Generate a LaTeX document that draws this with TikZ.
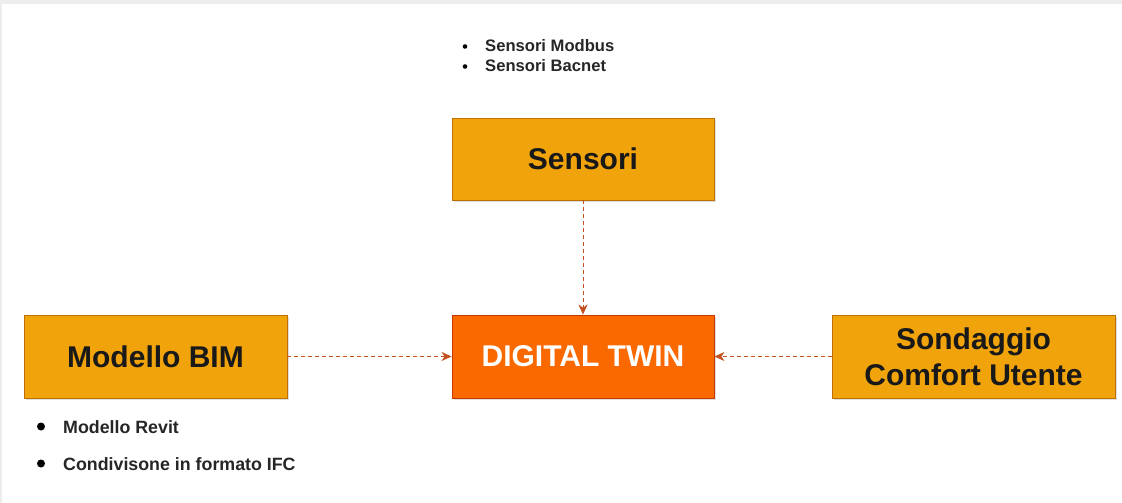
\documentclass[tikz,border=0pt]{standalone}
\usepackage{fontspec}
\setmainfont{Liberation Sans}
\usetikzlibrary{shadows,arrows.meta}
\definecolor{boxfill}{HTML}{F0A30A}
\definecolor{boxline}{HTML}{BD7000}
\definecolor{dtfill}{HTML}{FA6800}
\definecolor{dtline}{HTML}{C73500}
\definecolor{arr}{HTML}{C4501F}
\tikzset{
  box/.style={draw=boxline, fill=boxfill, line width=0.8pt, inner sep=0pt, align=center,
    font=\fontsize{30}{36}\selectfont\bfseries, text=black!90,
    drop shadow={shadow xshift=2pt, shadow yshift=-2pt, opacity=0.25, fill=gray}},
  dtbox/.style={box, draw=dtline, fill=dtfill, text=white},
  conn/.style={draw=arr, dash pattern=on 4pt off 3pt, line width=1pt,
    -{Stealth[length=10pt, width=9pt, inset=3pt]}},
  bul/.style={anchor=base west, inner sep=0pt, text=black!85}
}
\begin{document}
\begin{tikzpicture}[x=1pt, y=-1pt]
\useasboundingbox (0,0) rectangle (1122,503);
\fill[white] (0,0) rectangle (1122,503);
\fill[black!7] (0,0) rectangle (1122,4);
\fill[black!7] (0,0) rectangle (2,503);
% boxes
\node[box, minimum width=262pt, minimum height=82pt] (sens) at (583,159) {Sensori};
\node[box, minimum width=263pt, minimum height=83pt] (bim) at (155.5,356.5) {Modello BIM};
\node[dtbox, minimum width=262pt, minimum height=83pt] (dt) at (583,356.5) {DIGITAL TWIN};
\node[box, minimum width=283pt, minimum height=83pt] (sond) at (973.5,356.5) {Sondaggio\\Comfort Utente};
% connectors
\draw[conn] (sens) -- (dt);
\draw[conn] (bim) -- (dt);
\draw[conn] (sond) -- (dt);
% top bullet list
\node[bul, font=\fontsize{16.6}{20}\selectfont\bfseries] (t1) at (485,52) {Sensori Modbus};
\node[bul, font=\fontsize{16.6}{20}\selectfont\bfseries] (t2) at (485,72) {Sensori Bacnet};
\fill[black] (465,46.5) circle (2.3pt);
\fill[black] (465,66.5) circle (2.3pt);
% bottom bullet list
\node[bul, font=\fontsize{17.8}{20}\selectfont\bfseries] (b1) at (63,433) {Modello Revit};
\node[bul, font=\fontsize{17.8}{20}\selectfont\bfseries] (b2) at (63,470) {Condivisone in formato IFC};
\fill[black] (41,426.5) circle (4pt);
\fill[black] (41,463.5) circle (4pt);
\end{tikzpicture}
\end{document}
